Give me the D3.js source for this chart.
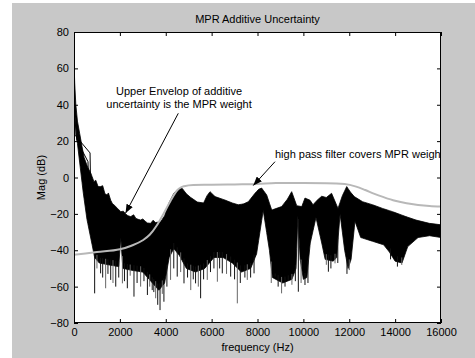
<!DOCTYPE html>
<html><head><meta charset="utf-8">
<script src="https://cdn.jsdelivr.net/npm/d3@7"></script>
<style>
html,body{margin:0;padding:0;background:#fff;}
svg{display:block;}
text{font-family:"Liberation Sans",Arial,Helvetica,sans-serif;}
</style>
</head><body><div id="chart"></div>
<script>
// ---------- data ----------
const xTicks = [0,2000,4000,6000,8000,10000,12000,14000,16000];
const yTicks = [-80,-60,-40,-20,0,20,40,60,80];

// dense bundle of uncertainty curves: upper edge
const upperFreq = [0,30,80,150,250,350,440,600,730,870,950,1050,1160,1250,1350,1440,1500,1600,1680,1740,1900,2040,2150,2250,2350,2470,2600,2700,2800,2900,3000,3100,3200,3340,3450,3550,3780,3950,4140,4360,4550,4720,4900,5090,5380,5650,5800,5930,6150,6580,6900,7160,7400,7600,7890,8050,8180,8400,8620,9050,9300,9490,9710,9930,10070,10290,10420,10600,10800,11000,11230,11510,11700,11890,12050,12220,12580,13020,13450,13890,14470,14910,15490,16000];
const upperDb   = [64,52,40,31,24,17,11,5.5,2.5,-2.3,-1.5,-5,-5,-4.5,-9,-9.6,-8.5,-12.5,-14.5,-15,-17,-18.8,-18.5,-20,-21,-21.5,-20.5,-22.5,-23,-23.4,-22.8,-24,-25,-25.2,-23.5,-24.8,-24.3,-21,-14,-8.5,-6.5,-6,-9,-11,-13.5,-14,-10,-7.8,-10.5,-12.4,-14,-15,-14.5,-13.3,-8.7,-6.5,-5.8,-9.6,-17.9,-16,-12,-7.8,-15.5,-16,-11.3,-12.5,-15,-12.5,-10.3,-11,-8.7,-17,-10,-5,-8,-10.5,-13.3,-15,-17,-18.8,-21.5,-23.4,-25.2,-26];

// dense bundle: lower edge (notches are where few curves reach down)
const lowerFreq = [0,120,250,400,565,790,900,1100,1500,1950,2040,2130,2500,3000,3350,3700,3950,4150,4350,4600,4900,5300,5700,6100,6500,6900,7300,7700,7960,8250,8520,8650,9100,9500,9680,9760,9860,10000,10150,10300,10550,10800,10950,11300,11450,11600,11800,11950,12080,12250,12500,13000,13500,13750,14000,14300,14550,15000,15500,16000];
const lowerDb   = [40,22,8,-8,-23,-37,-44,-47,-48,-49,-33,-50,-51,-52,-57,-62,-58,-44,-39,-43,-50,-52,-50,-44,-44,-47,-52,-50,-42,-18,-40,-55,-58,-56,-50,-21,-45,-56,-55,-36,-22,-36,-45,-46,-44,-20,-40,-50,-45,-24,-33,-35,-37,-41,-46,-47,-38,-33,-32,-33];

// deep downward excursions of single curves
const spikeFreq = [900,1000,1160,1250,1380,1480,1600,1700,1820,1950,2110,2200,2325,2450,2615,2750,2905,3050,3200,3300,3410,3480,3560,3650,3750,3850,3920,4050,4210,4350,4500,4650,4795,4950,5090,5200,5300,5420,5520,5650,5810,5950,6100,6250,6350,6465,6650,6830,7000,7120,7250,7450,7555,7700,7850,8600,8770,8900,9050,9200,9340,9500,9650,9780,9900,10070,10200,11000,11090,11200,11380,11500,11900,12000,13800,14100,14290];
const spikeDb   = [-63.7,-50,-52.7,-55,-60.9,-53,-56.3,-58,-60,-55,-58.2,-57,-60.9,-54,-65.5,-58,-60,-57,-64.6,-60,-61.9,-63,-66.4,-70,-72.9,-64,-68.3,-60,-56.3,-50,-54.5,-52,-58.2,-55,-61.9,-56,-58.2,-60,-66.4,-56,-56.3,-52,-50,-57.3,-50,-52.7,-53,-54.5,-56,-69.2,-58,-55,-56.3,-55,-52.7,-58,-54.5,-60,-63.7,-60,-56.3,-59,-57,-62.8,-58,-59.1,-58,-48,-51.8,-50,-47.2,-47,-53,-50.9,-45,-49,-48.1];

// two separated curves at low frequency
const strayAFreq = [0,45,700,720];
const strayADb   = [40,23.3,13.5,-2];
const strayBFreq = [0,120,610,640];
const strayBDb   = [38,20.6,8.7,-5];

// MPR weight / high pass filter (grey)
const weightFreq = [0,1000,2000,2500,3000,3300,3600,3900,4200,4500,4650,4800,5200,6000,7000,8000,8800,10000,11000,11800,12300,12700,13100,13500,14000,14500,15000,15500,16000];
const weightDb   = [-42.5,-41,-39.5,-37.5,-34.5,-31.5,-26.5,-20,-13,-7,-5.5,-4.8,-4.1,-4,-3.8,-3.6,-3.0,-3.0,-3.1,-3.6,-5,-6.9,-9,-10.8,-12.8,-14.2,-15.1,-15.7,-16];

// annotations (data coordinates)
const note1Lines = ["Upper Envelop of additive","uncertainty is the MPR weight"];
const note1At = [4580, 45.4];
const arrow1 = [[4547, 35.3],[2245, -19.7]];
const note2Text = "high pass filter covers MPR weight";
const note2At = [8763, 10.7];
const arrow2 = [[8763, 8.7],[7817, -4.4]];

const titleText = "MPR Additive Uncertainty";
const xLabel = "frequency (Hz)";
const yLabel = "Mag (dB)";

// ---------- drawing ----------
const W = 475, H = 358;
const L = 74, R = 441, T = 32, B = 323;
const svg = d3.select("#chart").append("svg").attr("width", W).attr("height", H);

svg.append("rect").attr("x", 12).attr("y", 3).attr("width", W - 12).attr("height", H - 3).attr("fill", "#c8c8c8");

const x = d3.scaleLinear().domain([0, 16000]).range([L, R]);
const y = d3.scaleLinear().domain([-80, 80]).range([B, T]);

svg.append("rect").attr("x", L).attr("y", T).attr("width", R - L).attr("height", B - T).attr("fill", "#fff");

const defs = svg.append("defs");
defs.append("clipPath").attr("id", "clip").append("rect").attr("x", L).attr("y", T).attr("width", R - L).attr("height", B - T);
defs.append("marker").attr("id", "head").attr("markerUnits", "userSpaceOnUse")
  .attr("markerWidth", 10).attr("markerHeight", 7).attr("refX", 9).attr("refY", 3.5).attr("orient", "auto")
  .append("path").attr("d", "M0,0 L9,3.5 L0,7 Z").attr("fill", "#000");

const g = svg.append("g").attr("clip-path", "url(#clip)");

// band = area between upper and lower (sampled on union of frequencies)
const upperAt = d3.scaleLinear().domain(upperFreq).range(upperDb);
const lowerAt = d3.scaleLinear().domain(lowerFreq).range(lowerDb);
const allF = Array.from(new Set(upperFreq.concat(lowerFreq))).sort((a, b) => a - b);
const area = d3.area().x(f => x(f)).y0(f => y(lowerAt(f))).y1(f => y(upperAt(f)));
g.append("path").datum(allF).attr("d", area).attr("fill", "#000").attr("stroke", "#000").attr("stroke-width", 0.8);

// spikes
g.selectAll("line.spike").data(spikeFreq).join("line").attr("class", "spike")
  .attr("x1", f => x(f)).attr("x2", f => x(f))
  .attr("y1", f => y(lowerAt(f) + 3)).attr("y2", (f, i) => y(spikeDb[i]))
  .attr("stroke", (f, i) => i % 3 === 1 ? "#666" : "#111").attr("stroke-width", 1);

// stray curves
const line = d3.line().x(d => x(d[0])).y(d => y(d[1]));
[[strayAFreq, strayADb], [strayBFreq, strayBDb]].forEach(([fs, ds]) => {
  g.append("path").datum(fs.map((f, i) => [f, ds[i]])).attr("d", line)
    .attr("fill", "none").attr("stroke", "#000").attr("stroke-width", 1);
});

// grey weight curve
g.append("path").datum(weightFreq.map((f, i) => [f, weightDb[i]]))
  .attr("d", d3.line().x(d => x(d[0])).y(d => y(d[1])).curve(d3.curveMonotoneX))
  .attr("fill", "none").attr("stroke", "#b8b8b8").attr("stroke-width", 2);

// annotations
const t1 = svg.append("text").attr("x", x(note1At[0])).attr("y", y(note1At[1]))
  .attr("text-anchor", "middle").attr("font-size", 11).attr("fill", "#000");
note1Lines.forEach((s, i) => t1.append("tspan").attr("x", x(note1At[0])).attr("dy", i ? 13 : 0).text(s));
svg.append("line").attr("x1", x(arrow1[0][0])).attr("y1", y(arrow1[0][1]))
  .attr("x2", x(arrow1[1][0])).attr("y2", y(arrow1[1][1]))
  .attr("stroke", "#000").attr("stroke-width", 1).attr("marker-end", "url(#head)");

g.append("text").attr("x", x(note2At[0])).attr("y", y(note2At[1]))
  .attr("font-size", 11).attr("fill", "#000").text(note2Text);
svg.append("line").attr("x1", x(arrow2[0][0])).attr("y1", y(arrow2[0][1]))
  .attr("x2", x(arrow2[1][0])).attr("y2", y(arrow2[1][1]))
  .attr("stroke", "#000").attr("stroke-width", 1).attr("marker-end", "url(#head)");

// axes (MATLAB style: ticks inward on all sides, box)
const styleAxis = sel => { sel.select(".domain").remove(); sel.selectAll("line").attr("stroke", "#000"); sel.selectAll("text").attr("font-size", 11).attr("fill", "#000").attr("font-family", "Liberation Sans, Arial, sans-serif"); };
svg.append("g").attr("transform", `translate(0,${B})`)
  .call(d3.axisBottom(x).tickValues(xTicks).tickFormat(d3.format("d")).tickSizeInner(-4).tickSizeOuter(0).tickPadding(5)).call(styleAxis);
svg.append("g").attr("transform", `translate(0,${T})`)
  .call(d3.axisTop(x).tickValues(xTicks).tickFormat("").tickSizeInner(-4).tickSizeOuter(0)).call(styleAxis);
svg.append("g").attr("transform", `translate(${L},0)`)
  .call(d3.axisLeft(y).tickValues(yTicks).tickFormat(d3.format("d")).tickSizeInner(-4).tickSizeOuter(0).tickPadding(5)).call(styleAxis);
svg.append("g").attr("transform", `translate(${R},0)`)
  .call(d3.axisRight(y).tickValues(yTicks).tickFormat("").tickSizeInner(-4).tickSizeOuter(0)).call(styleAxis);

svg.append("rect").attr("x", L + 0.5).attr("y", T + 0.5).attr("width", R - L - 1).attr("height", B - T - 1)
  .attr("fill", "none").attr("stroke", "#000").attr("stroke-width", 1);

svg.append("text").attr("x", (L + R) / 2).attr("y", 23).attr("text-anchor", "middle").attr("font-size", 11).text(titleText);
svg.append("text").attr("x", (L + R) / 2).attr("y", 351).attr("text-anchor", "middle").attr("font-size", 11).text(xLabel);
svg.append("text").attr("transform", `translate(45,${(T + B) / 2}) rotate(-90)`).attr("text-anchor", "middle").attr("font-size", 11).text(yLabel);
</script>
</body></html>
